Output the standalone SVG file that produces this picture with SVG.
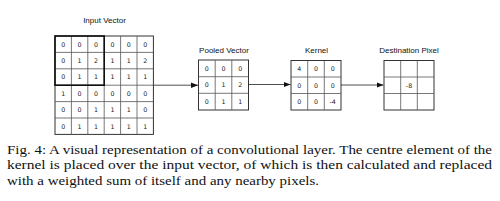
<svg xmlns="http://www.w3.org/2000/svg" width="500" height="201" viewBox="0 0 500 201">
<style>
.lbl{font-family:"Liberation Sans","DejaVu Sans",sans-serif;font-size:8px;fill:#111;text-anchor:middle}
.num{font-family:"DejaVu Sans","Liberation Sans",sans-serif;font-size:6.3px;fill:#222;text-anchor:middle}
.g{fill:none;stroke:#555;stroke-width:0.8}
.o{fill:#fff;stroke:#333;stroke-width:1}
.thick{fill:none;stroke:#111;stroke-width:1.6}
.conn{stroke:#222;stroke-width:0.8;fill:none}
.cap{font-family:"Liberation Serif","DejaVu Serif",serif;font-size:12.6px;fill:#111}
</style>
<defs>
<marker id="ah" viewBox="0 0 10 10" refX="10" refY="5" markerWidth="7" markerHeight="7" markerUnits="userSpaceOnUse" orient="auto">
<path d="M0,1 L10,5 L0,9 z" fill="#111"/>
</marker>
</defs>
<rect width="500" height="201" fill="#fff"/>

<g id="input-vector">
<text class="lbl" x="104.5" y="22.5">Input Vector</text>
<rect class="o" x="55" y="36" width="98.4" height="98.4"/>
<path class="g" d="M71.4,36V134.4M87.8,36V134.4M104.2,36V134.4M120.6,36V134.4M137,36V134.4M55,52.4H153.4M55,68.8H153.4M55,85.2H153.4M55,101.6H153.4M55,118H153.4"/>
<rect class="thick" x="55" y="36" width="49.2" height="49.2"/>
<g class="num">
<text x="63.2" y="46.6">0</text><text x="79.6" y="46.6">0</text><text x="96" y="46.6">0</text><text x="112.4" y="46.6">0</text><text x="128.8" y="46.6">0</text><text x="145.2" y="46.6">0</text>
<text x="63.2" y="63">0</text><text x="79.6" y="63">1</text><text x="96" y="63">2</text><text x="112.4" y="63">1</text><text x="128.8" y="63">1</text><text x="145.2" y="63">2</text>
<text x="63.2" y="79.4">0</text><text x="79.6" y="79.4">1</text><text x="96" y="79.4">1</text><text x="112.4" y="79.4">1</text><text x="128.8" y="79.4">1</text><text x="145.2" y="79.4">1</text>
<text x="63.2" y="95.8">1</text><text x="79.6" y="95.8">0</text><text x="96" y="95.8">0</text><text x="112.4" y="95.8">0</text><text x="128.8" y="95.8">0</text><text x="145.2" y="95.8">0</text>
<text x="63.2" y="112.2">0</text><text x="79.6" y="112.2">0</text><text x="96" y="112.2">1</text><text x="112.4" y="112.2">1</text><text x="128.8" y="112.2">1</text><text x="145.2" y="112.2">0</text>
<text x="63.2" y="128.6">0</text><text x="79.6" y="128.6">1</text><text x="96" y="128.6">1</text><text x="112.4" y="128.6">1</text><text x="128.8" y="128.6">1</text><text x="145.2" y="128.6">1</text>
</g>
</g>

<g id="pooled-vector">
<text class="lbl" x="224" y="52.5">Pooled Vector</text>
<rect class="o" x="198.5" y="60" width="50" height="50"/>
<path class="g" d="M215.2,60V110M231.8,60V110M198.5,76.7H248.5M198.5,93.3H248.5"/>
<g class="num">
<text x="206.8" y="70.6">0</text><text x="223.5" y="70.6">0</text><text x="240.2" y="70.6">0</text>
<text x="206.8" y="87.3">0</text><text x="223.5" y="87.3">1</text><text x="240.2" y="87.3">2</text>
<text x="206.8" y="104">0</text><text x="223.5" y="104">1</text><text x="240.2" y="104">1</text>
</g>
</g>

<g id="kernel">
<text class="lbl" x="316.5" y="52.5">Kernel</text>
<rect class="o" x="291" y="60.5" width="50" height="49.5"/>
<path class="g" d="M307.7,60.5V110M324.3,60.5V110M291,77H341M291,93.5H341"/>
<g class="num">
<text x="299.3" y="71">4</text><text x="316" y="71">0</text><text x="332.7" y="71">0</text>
<text x="299.3" y="87.5">0</text><text x="316" y="87.5">0</text><text x="332.7" y="87.5">0</text>
<text x="299.3" y="104">0</text><text x="316" y="104">0</text><text x="332.7" y="104">-4</text>
</g>
</g>

<g id="destination-pixel">
<text class="lbl" x="409" y="52.5">Destination Pixel</text>
<rect class="o" x="384" y="60.5" width="50" height="49.5"/>
<path class="g" d="M400.7,60.5V110M417.3,60.5V110M384,77H434M384,93.5H434"/>
<text class="num" x="409" y="87.5">-8</text>
</g>

<g id="connectors">
<path class="conn" d="M153.4,85.2H198" marker-end="url(#ah)"/>
<path class="conn" d="M248.5,84.5H290.5" marker-end="url(#ah)"/>
<path class="conn" d="M341,85H383.5" marker-end="url(#ah)"/>
</g>

<g id="caption">
<text class="cap" x="7" y="153.5" textLength="485" lengthAdjust="spacingAndGlyphs">Fig. 4: A visual representation of a convolutional layer. The centre element of the</text>
<text class="cap" x="7" y="169" textLength="485" lengthAdjust="spacingAndGlyphs">kernel is placed over the input vector, of which is then calculated and replaced</text>
<text class="cap" x="7" y="184.5" textLength="312" lengthAdjust="spacingAndGlyphs">with a weighted sum of itself and any nearby pixels.</text>
</g>
</svg>
